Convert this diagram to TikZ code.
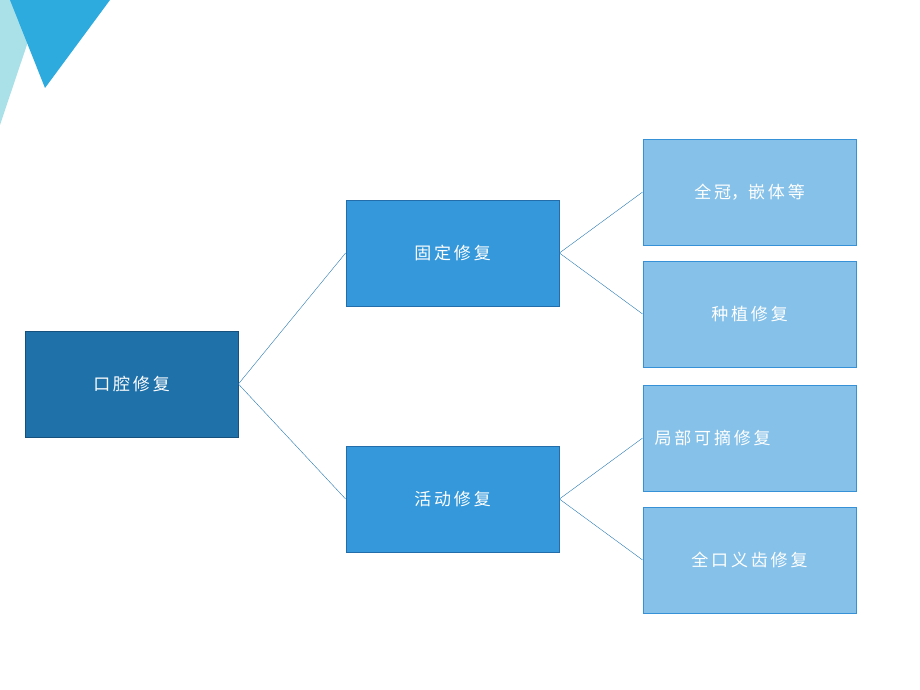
\documentclass[tikz,border=0pt]{standalone}
\usepackage{fontspec}
\newfontfamily\cjk{Noto Sans CJK SC}
\usetikzlibrary{positioning}
\definecolor{rootblue}{RGB}{31,113,170}
\definecolor{rootedge}{RGB}{22,80,125}
\definecolor{midblue}{RGB}{52,152,219}
\definecolor{midedge}{RGB}{35,110,170}
\definecolor{leafblue}{RGB}{133,193,233}
\definecolor{leafedge}{RGB}{55,145,215}
\definecolor{linkblue}{RGB}{40,120,180}
\definecolor{tri1}{RGB}{170,225,232}
\definecolor{tri2}{RGB}{45,170,222}
\begin{document}
\begin{tikzpicture}[x=1pt,y=-1pt,
	box/.style={draw,thick,minimum width=213pt,minimum height=106pt,
		text=white,font=\cjk\fontsize{17}{20}\selectfont},
	root node/.style={box,fill=rootblue,draw=rootedge},
	mid node/.style={box,fill=midblue,draw=midedge},
	leaf node/.style={box,fill=leafblue,draw=leafedge},
	link/.style={draw=linkblue,thin}]
	
	\useasboundingbox (0,0) rectangle (920,690);
	\fill[tri1] (0,0) -- (42,0) -- (0,125) -- cycle;
	\fill[tri2] (10,0) -- (110,0) -- (45,88) -- cycle;
	
	\node[root node] (root) at (131.5,384) {口\,腔\,修\,复};
	\node[mid node] (fixed) at (452.5,253) {固\,定\,修\,复};
	\node[mid node] (remov) at (452.5,499) {活\,动\,修\,复};
	\node[leaf node] (crown) at (749.5,192) {全\,冠，嵌\,体\,等};
	\node[leaf node] (impl) at (749.5,314) {种\,植\,修\,复};
	\node[leaf node,text width=190pt] (part) at (749.5,438) {局\,部\,可\,摘\,修\,复};
	\node[leaf node] (full) at (749.5,560) {全\,口\,义\,齿\,修\,复};
	
	\path[link]
	(root.east) edge (fixed.west)
	(root.east) edge (remov.west)
	(fixed.east) edge (crown.west)
	(fixed.east) edge (impl.west)
	(remov.east) edge (part.west)
	(remov.east) edge (full.west);
\end{tikzpicture}
\end{document}
